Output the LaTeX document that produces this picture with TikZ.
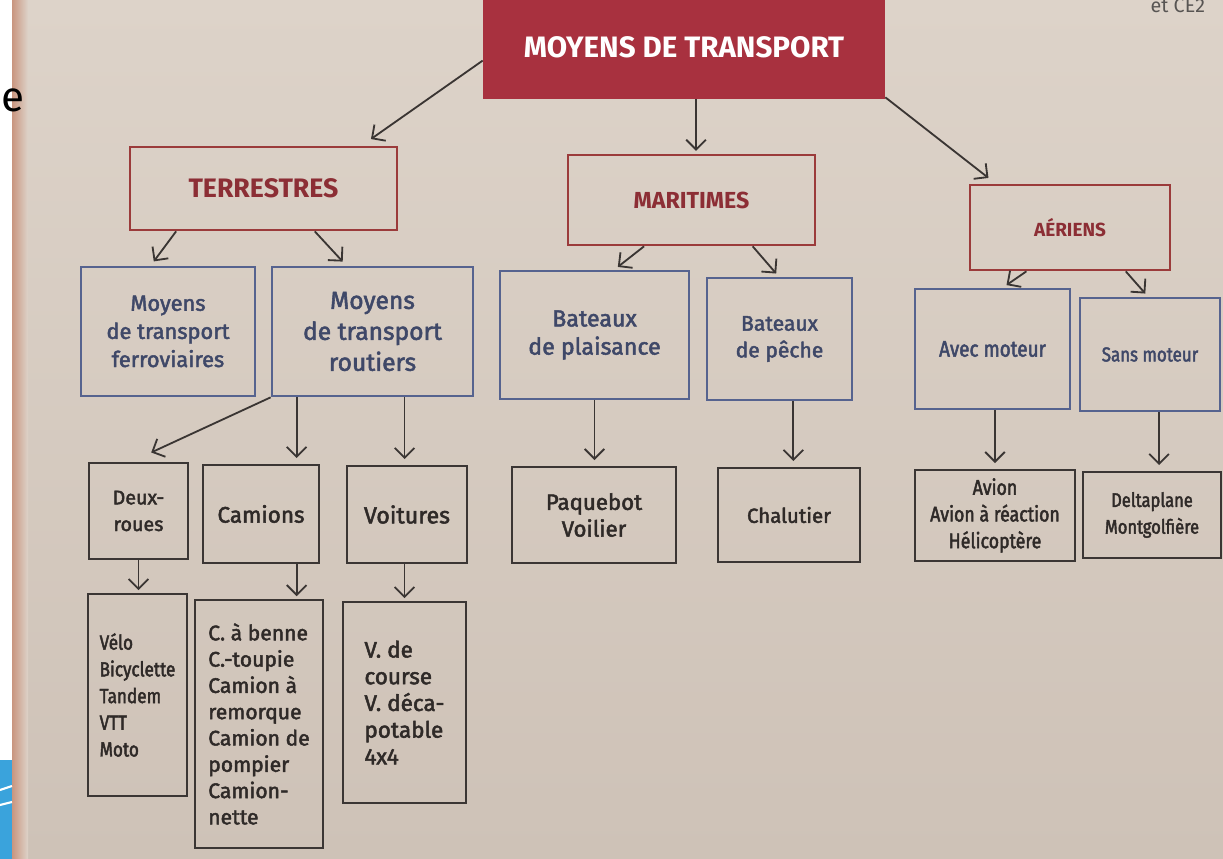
\documentclass[tikz,border=0pt]{standalone}
\usepackage{fontspec}
\setmainfont{Fira Sans}
\newfontfamily\semib{Fira Sans}[FakeBold=2.2]
\newfontfamily\condf{Fira Sans}[FakeStretch=0.84,FakeBold=2.2]
\usetikzlibrary{arrows.meta,calc}
\definecolor{bgtop}{HTML}{DDD3C9}
\definecolor{bgbot}{HTML}{CEC2B7}
\definecolor{crimson}{HTML}{A8313F}
\definecolor{redline}{HTML}{9B3B3B}
\definecolor{redtext}{HTML}{8C2E35}
\definecolor{blueline}{HTML}{56638F}
\definecolor{bluetext}{HTML}{3F4868}
\definecolor{darkline}{HTML}{3B3634}
\definecolor{darktext}{HTML}{2F2A28}
\definecolor{arrowcol}{HTML}{3A3533}
\definecolor{edgecol}{HTML}{C9957F}
\definecolor{stripblue}{HTML}{3AA3DC}
\tikzset{
  box/.style={draw, line width=1.9pt, inner sep=0pt, align=center},
  rbox/.style={box, draw=redline, text=redtext, font=\bfseries\fontsize{19}{22}\selectfont},
  bbox/.style={box, draw=blueline, text=bluetext},
  kbox/.style={box, draw=darkline, text=darktext},
  arr/.style={draw=arrowcol, line width=1.3pt, -{Straight Barb[length=7pt,width=14pt,line width=1.3pt]}, shorten >=2pt},
}
\newcommand\mybox[7]{\node[#6, minimum width={(#4-#2)*0.025cm}, minimum height={(#5-#3)*0.025cm}] (#1) at ({(#2+#4)/2},{(#3+#5)/2}) {#7};}
\begin{document}
\begin{tikzpicture}[x=0.025cm,y=-0.025cm]
\useasboundingbox (0,0) rectangle (1223,859);
\clip (0,0) rectangle (1223,859);
% page background
\shade[top color=bgtop, bottom color=bgbot] (0,0) rectangle (1223,859);
\fill[white] (0,0) rectangle (12,859);
\shade[left color=edgecol, right color=bgtop] (12,0) rectangle (28,859);
\fill[stripblue] (0,760) rectangle (12,859);
\draw[white, line width=1.5pt] (0,790) -- (12,786);
\draw[white, line width=1.5pt] (0,805) -- (12,802);
\node[text=black, font=\fontsize{30}{30}\selectfont, anchor=west, inner sep=0pt] (edgee) at (1,100) {e};
\node[text=darktext!80, font=\fontsize{14}{14}\selectfont, anchor=north east] (ce) at (1210,-6) {et CE2};

% boxes
\mybox{main}{484}{-4}{884}{98}{box, draw=crimson, fill=crimson, text=white, font=\bfseries\fontsize{21}{24}\selectfont}{MOYENS DE TRANSPORT}
\mybox{terr}{130}{147}{397}{230}{rbox}{TERRESTRES}
\mybox{mari}{568}{155}{815}{245}{rbox, font=\bfseries\fontsize{16.5}{18}\selectfont}{MARITIMES}
\mybox{aer}{970}{185}{1170}{270}{rbox, font=\bfseries\fontsize{13.5}{15}\selectfont}{AÉRIENS}

\mybox{ferro}{81}{267}{255}{396}{bbox, font=\semib\fontsize{15.5}{20}\selectfont}{Moyens\\de transport\\ferroviaires}
\mybox{rout}{272}{267}{473}{396}{bbox, font=\semib\fontsize{17.5}{22}\selectfont}{Moyens\\de transport\\routiers}
\mybox{plais}{500}{271}{689}{399}{bbox, font=\semib\fontsize{16.5}{20}\selectfont}{Bateaux\\de plaisance}
\mybox{peche}{707}{278}{852}{400}{bbox, font=\semib\fontsize{15}{19}\selectfont}{Bateaux\\de pêche}
\mybox{avec}{915}{289}{1070}{409}{bbox, font=\condf\fontsize{16}{18}\selectfont}{Avec moteur}
\mybox{sans}{1080}{298}{1220}{411}{bbox, font=\condf\fontsize{14.3}{18}\selectfont}{Sans moteur}

\mybox{deux}{89}{463}{188}{559}{kbox, font=\semib\fontsize{14}{19}\selectfont}{Deux-\\roues}
\mybox{cam}{203}{465}{319}{563}{kbox, font=\semib\fontsize{16}{19}\selectfont}{Camions}
\mybox{voit}{347}{466}{467}{563}{kbox, font=\semib\fontsize{16.5}{19}\selectfont}{Voitures}
\mybox{paq}{512}{467}{676}{563}{kbox, font=\semib\fontsize{15.8}{19}\selectfont}{Paquebot\\Voilier}
\mybox{chal}{718}{468}{860}{562}{kbox, font=\semib\fontsize{14.5}{19}\selectfont}{Chalutier}
\mybox{avion}{915}{470}{1075}{561}{kbox, font=\condf\fontsize{15}{19}\selectfont}{Avion\\Avion à réaction\\Hélicoptère}
\mybox{delta}{1083}{472}{1221}{558}{kbox, font=\condf\fontsize{14}{19}\selectfont}{Deltaplane\\Montgolfière}

\mybox{velo}{88}{594}{187}{796}{kbox, line width=1.4pt, align=left, font=\condf\fontsize{14.5}{19}\selectfont}{Vélo\\Bicyclette\\Tandem\\VTT\\Moto}
\mybox{camL}{195}{600}{323}{848}{kbox, line width=1.4pt, align=left, font=\semib\fontsize{15}{18.7}\selectfont}{C. à benne\\C.-toupie\\Camion à\\remorque\\Camion de\\pompier\\Camion-\\nette}
\mybox{voitL}{343}{602}{466}{803}{kbox, line width=1.4pt, align=left, font=\semib\fontsize{16}{19}\selectfont}{V. de\\course\\V. déca-\\potable\\4x4}

% connectors
\draw[arr] ($(main.south west)!0.37!(main.north west)$) -- ($(terr.north west)!0.89!(terr.north east)+(0,-5)$);
\coordinate (m1) at ($(main.south west)!0.53!(main.south east)$);
\draw[arr] (m1) -- (m1 |- mari.north);
\draw[arr] ($(main.south east)+(0,-2)$) -- ($(aer.north west)+(22,-4)$);

\draw[arr] ($(terr.south west)!0.176!(terr.south east)$) -- ($(ferro.north west)!0.41!(ferro.north east)+(0,-2)$);
\draw[arr] ($(terr.south west)!0.69!(terr.south east)$) -- ($(rout.north west)!0.363!(rout.north east)+(0,-2)$);
\draw[arr] ($(mari.south west)!0.31!(mari.south east)$) -- ($(plais.north west)!0.61!(plais.north east)+(0,-1)$);
\draw[arr] ($(mari.south west)!0.745!(mari.south east)$) -- ($(peche.north west)!0.49!(peche.north east)+(0,-1)$);
\draw[arr] ($(aer.south west)!0.285!(aer.south east)$) -- ($(avec.north west)!0.574!(avec.north east)+(0,-1)$);
\draw[arr] ($(aer.south west)!0.775!(aer.south east)$) -- ($(sans.north west)!0.48!(sans.north east)+(0,-1)$);

\draw[arr] (rout.south west) -- ($(deux.north west)!0.6!(deux.north east)+(0,-8)$);
\coordinate (c1) at ($(cam.north west)!0.8!(cam.north east)$);
\draw[arr, shorten >=4pt] (c1 |- rout.south) -- (c1);
\coordinate (v1) at ($(voit.north west)!0.48!(voit.north east)$);
\draw[arr, shorten >=4pt] (v1 |- rout.south) -- (v1);

\draw[arr, shorten >=2pt] (deux.south) -- (deux.south |- velo.north);
\coordinate (c2) at ($(camL.north west)!0.79!(camL.north east)$);
\draw[arr, shorten >=2pt] (c2 |- cam.south) -- (c2);
\draw[arr, shorten >=2pt] (voitL.north |- voit.south) -- (voitL.north);

\draw[arr, shorten >=4pt] (plais.south) -- (plais.south |- paq.north);
\coordinate (p1) at ($(chal.north west)!0.53!(chal.north east)$);
\draw[arr, shorten >=4pt] (p1 |- peche.south) -- (p1);
\draw[arr, shorten >=4pt] (avion.north |- avec.south) -- (avion.north);
\coordinate (d1) at ($(delta.north west)!0.55!(delta.north east)$);
\draw[arr, shorten >=4pt] (d1 |- sans.south) -- (d1);
\end{tikzpicture}
\end{document}
